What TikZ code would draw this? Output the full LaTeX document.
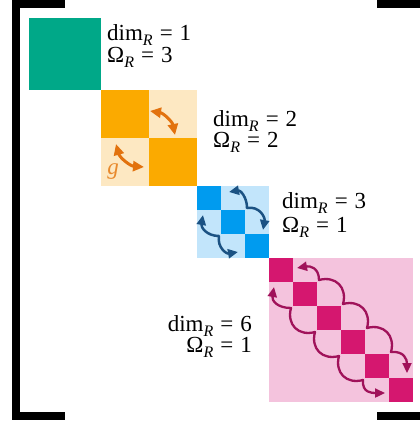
\documentclass[tikz,border=0pt]{standalone}
\usepackage{fontspec}
\setmainfont{Liberation Serif}
\usetikzlibrary{arrows.meta}
\definecolor{cgreen}{HTML}{00A888}
\definecolor{corange}{HTML}{FBAA00}
\definecolor{clorange}{HTML}{FDE8C2}
\definecolor{carrowor}{HTML}{E2720E}
\definecolor{cg}{HTML}{E8892C}
\definecolor{cblue}{HTML}{009BEF}
\definecolor{clblue}{HTML}{C2E5FB}
\definecolor{carrowbl}{HTML}{1B5283}
\definecolor{cpink}{HTML}{D5176F}
\definecolor{clpink}{HTML}{F4C3DD}
\definecolor{carrowpk}{HTML}{A0125A}
\newcommand\mysubR{\raisebox{-0.25em}[0pt][0pt]{\fontsize{16}{16}\selectfont\itshape R}}
\newcommand\mydim[1]{dim\mysubR\hspace{7pt}=\hspace{7pt}#1}
\newcommand\myom[1]{Ω\mysubR\hspace{7pt}=\hspace{7pt}#1}
\tikzset{
  lab/.style={inner sep=0pt, font=\fontsize{23}{23}\selectfont},
  swaparrow/.style={line width=#1, line join=round, {Triangle[length=10pt,width=9pt]}-{Triangle[length=10pt,width=9pt]}},
  brk/.style={fill=black},
}
\begin{document}
\begin{tikzpicture}[x=1pt,y=1pt]
\useasboundingbox (0,0) rectangle (420,-421);
% brackets
\fill[brk] (12,0) rectangle (20,-420);
\fill[brk] (12,0) rectangle (65,-8);
\fill[brk] (12,-412) rectangle (65,-420);
\fill[brk] (377,0) rectangle (420,-8);
\fill[brk] (377,-412) rectangle (420,-420);
% green block
\fill[cgreen] (29,-18) rectangle (101,-90);
% orange block
\fill[clorange] (101,-90) rectangle (197,-186);
\fill[corange] (101,-90) rectangle (149,-138);
\fill[corange] (149,-138) rectangle (197,-186);
% blue block
\fill[clblue] (197,-186) rectangle (269,-258);
\foreach \i in {0,1,2} \fill[cblue] ({197+24*\i},{-186-24*\i}) rectangle ++(24,-24);
% pink block
\fill[clpink] (269,-258) rectangle (413,-402);
\foreach \i in {0,...,5} \fill[cpink] ({269+24*\i},{-258-24*\i}) rectangle ++(24,-24);
% orange arrows
\coordinate (oa1) at (150,-111); \coordinate (oa2) at (175,-135);
\coordinate (ob1) at (116,-144); \coordinate (ob2) at (144,-167);
\draw[swaparrow=3pt, carrowor, {Triangle[length=11pt,width=10pt]}-{Triangle[length=11pt,width=10pt]}] (oa1) to[bend left=35] (oa2);
\draw[swaparrow=3pt, carrowor, {Triangle[length=11pt,width=10pt]}-{Triangle[length=11pt,width=10pt]}] (ob1) to[bend right=35] (ob2);
\node[lab, text=cg, font=\fontsize{23}{23}\selectfont\itshape, anchor=base] (g) at (113,-174) {g};
% blue arrows
\coordinate (bu0) at (229,-192); \coordinate (bu1) at (247,-208); \coordinate (bu2) at (263,-230);
\coordinate (bl0) at (203,-215); \coordinate (bl1) at (219,-236); \coordinate (bl2) at (238,-252);
\draw[swaparrow=2.5pt, carrowbl] (bu0) to[out=10,in=90,looseness=1.2] (bu1) to[out=10,in=80,looseness=1.2] (bu2);
\draw[swaparrow=2.5pt, carrowbl] (bl0) to[out=-100,in=180,looseness=1.2] (bl1) to[out=-100,in=190,looseness=1.2] (bl2);
% pink arrows
\coordinate (pu0) at (297,-268); \coordinate (pu1) at (319,-280); \coordinate (pu2) at (343,-304);
\coordinate (pu3) at (367,-328); \coordinate (pu4) at (391,-352); \coordinate (pu5) at (407,-373);
\coordinate (pl0) at (274,-287); \coordinate (pl1) at (291,-308); \coordinate (pl2) at (315,-332);
\coordinate (pl3) at (339,-356); \coordinate (pl4) at (363,-380); \coordinate (pl5) at (385,-393);
\begin{scope}[looseness=1.3]
\draw[swaparrow=2.3pt, carrowpk] (pu0) to[out=10,in=90] (pu1) to[out=15,in=75] (pu2) to[out=15,in=75] (pu3) to[out=15,in=75] (pu4) to[out=5,in=90] (pu5);
\draw[swaparrow=2.3pt, carrowpk] (pl0) to[out=-100,in=180] (pl1) to[out=-105,in=195] (pl2) to[out=-105,in=195] (pl3) to[out=-105,in=195] (pl4) to[out=-95,in=180] (pl5);
\end{scope}
% labels
\node[lab, anchor=base west] (d1) at (107,-40) {\mydim{1}};
\node[lab, anchor=base west] (w1) at (107,-62) {\myom{3}};
\node[lab, anchor=base west] (d2) at (213,-126) {\mydim{2}};
\node[lab, anchor=base west] (w2) at (213,-147) {\myom{2}};
\node[lab, anchor=base west] (d3) at (282,-208) {\mydim{3}};
\node[lab, anchor=base west] (w3) at (282,-232) {\myom{1}};
\node[lab, anchor=base east] (d4) at (252,-331) {\mydim{6}};
\node[lab, anchor=base east] (w4) at (252,-352) {\myom{1}};
\end{tikzpicture}
\end{document}
